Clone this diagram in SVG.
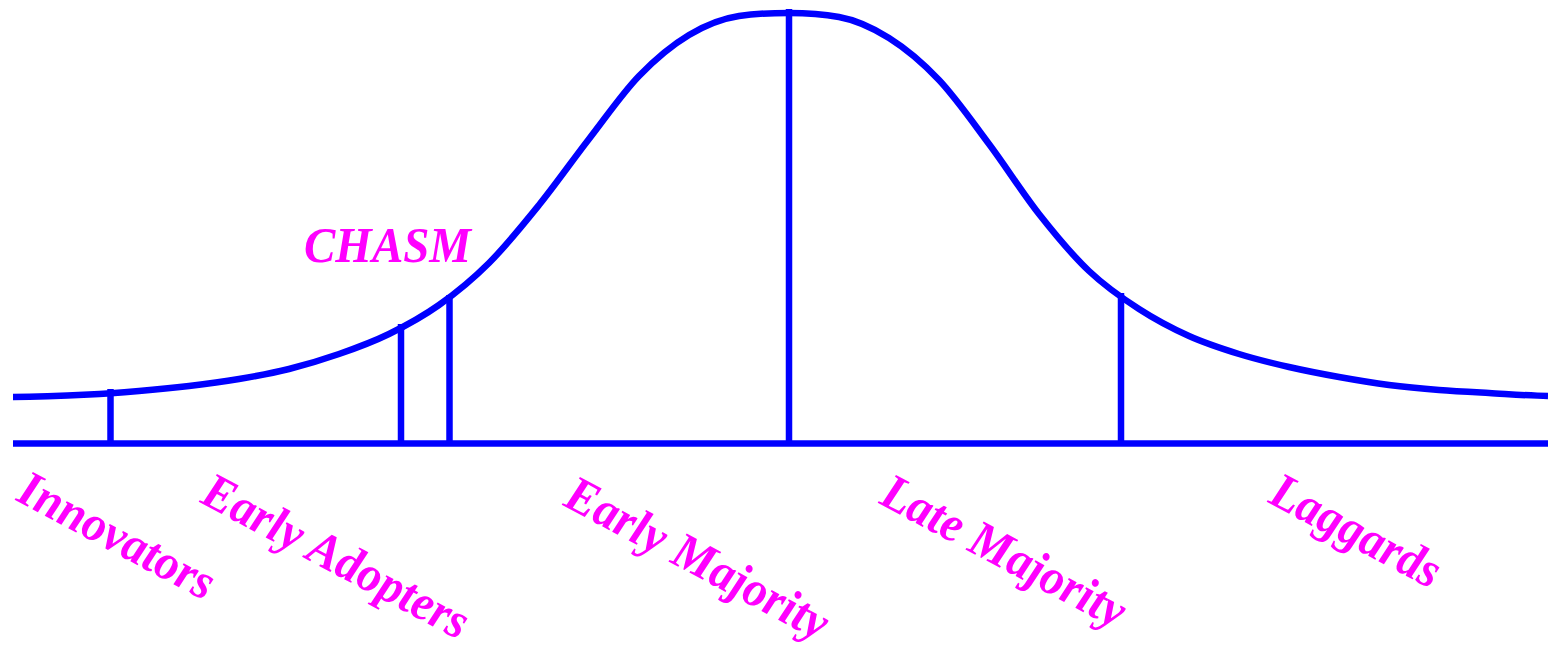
<svg xmlns="http://www.w3.org/2000/svg" width="1548" height="651" viewBox="0 0 1548 651">
<style>
.ln{stroke:#0000FF;stroke-width:6.5;fill:none}
.lb{font-family:"Liberation Serif","Times New Roman",serif;font-weight:bold;font-style:italic;font-size:47px;fill:#FF00FF}
</style>
<rect width="1548" height="651" fill="#FFFFFF"/>
<g id="connectors">
<path id="curve" class="ln" d="M13,397 C38.3,396.7 63.7,395.7 89,394.5 C105.7,393.7 122.3,392.4 139,391 C155.7,389.6 172.3,388 189,386 C205.7,384 222.3,381.8 239,379 C255.7,376.2 272.3,373.2 289,369 C305.7,364.8 322.3,359.8 339,354 C355.7,348.2 372.3,342.2 389,334 C405.7,325.8 422.3,316.8 439,305 C455.7,293.2 472.3,279.7 489,263 C505.7,246.3 522.3,225.7 539,205 C555.7,184.3 572.3,160.5 589,139 C605.7,117.5 622.3,93.3 639,76 C655.7,58.7 672.3,45 689,35 C705.7,25 722.3,18.5 739,16 C755.7,13.5 772.3,13 789,13 C805.7,13 822.3,14 839,17 C855.7,20 872.3,27.5 889,38 C905.7,48.5 922.3,62.3 939,80 C955.7,97.7 972.3,121.7 989,144 C1005.7,166.3 1022.3,192.8 1039,214 C1055.7,235.2 1072.3,255.2 1089,271 C1105.7,286.8 1122.3,298.2 1139,309 C1155.7,319.8 1172.3,328.5 1189,336 C1205.7,343.5 1222.3,348.8 1239,354 C1255.7,359.2 1272.3,363.2 1289,367 C1305.7,370.8 1322.3,374 1339,377 C1355.7,380 1372.3,382.8 1389,385 C1405.7,387.2 1422.3,388.7 1439,390 C1455.7,391.3 1472.3,392.1 1489,393 C1508.7,394.1 1528.3,395.6 1548,396"/>
<line id="axis" class="ln" x1="13" y1="443.5" x2="1548" y2="443.5"/>
<line class="ln" x1="110.5" y1="389" x2="110.5" y2="446"/>
<line class="ln" x1="401" y1="324" x2="401" y2="446"/>
<line class="ln" x1="449.5" y1="295" x2="449.5" y2="446"/>
<line class="ln" x1="789" y1="9" x2="789" y2="446"/>
<line class="ln" x1="1121" y1="293" x2="1121" y2="446"/>
</g>
<g id="chasm"><text class="lb" transform="translate(304,262) scale(1,1.1)">CHASM</text></g>
<g id="innovators"><text class="lb" transform="translate(15,500) scale(1,1.1) rotate(25.8)">Innovators</text></g>
<g id="early-adopters"><text class="lb" transform="translate(199,502) scale(1,1.1) rotate(25.8)">Early Adopters</text></g>
<g id="early-majority"><text class="lb" transform="translate(562,505) scale(1,1.1) rotate(25.8)">Early Majority</text></g>
<g id="late-majority"><text class="lb" transform="translate(878,503) scale(1,1.1) rotate(25.8)">Late Majority</text></g>
<g id="laggards"><text class="lb" transform="translate(1267,502) scale(1,1.1) rotate(25.8)">Laggards</text></g>
</svg>
